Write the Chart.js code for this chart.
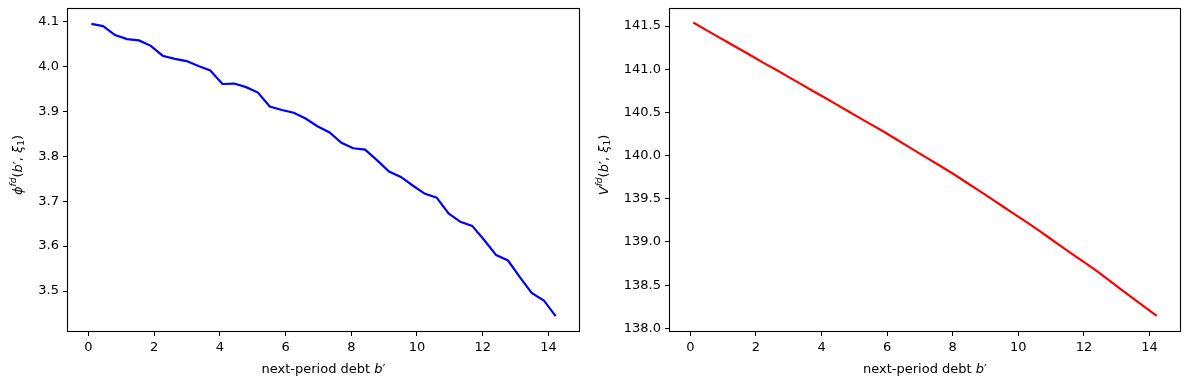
<!DOCTYPE html>
<html>
<head>
<meta charset="utf-8">
<script src="https://cdn.jsdelivr.net/npm/chart.js@4"></script>
<style>
  body { margin: 0; background: #fff; }
  #wrap { position: relative; width: 1189px; height: 389px; background: #fff; }
  canvas { position: absolute; top: 0; }
</style>
</head>
<body>
<div id="wrap">
  <canvas id="phiChart" width="595" height="389" style="left:0"></canvas>
  <canvas id="valChart" width="594" height="389" style="left:595px"></canvas>
</div>
<script>
// grid of next-period debt b'
const debtGrid = [0.09, 0.45, 0.81, 1.18, 1.54, 1.90, 2.26, 2.63, 2.99, 3.35,
  3.71, 4.08, 4.44, 4.80, 5.16, 5.52, 5.89, 6.25, 6.61, 6.97,
  7.34, 7.70, 8.06, 8.42, 8.79, 9.15, 9.51, 9.87, 10.23, 10.60,
  10.96, 11.32, 11.68, 12.05, 12.41, 12.77, 13.13, 13.49, 13.86, 14.22];

// left panel: phi^fd(b', xi_1)
const phiValues = [4.095, 4.090, 4.070, 4.061, 4.058, 4.046, 4.024, 4.017, 4.012, 4.001,
  3.991, 3.961, 3.962, 3.954, 3.942, 3.911, 3.903, 3.897, 3.884, 3.867,
  3.853, 3.830, 3.818, 3.815, 3.791, 3.766, 3.754, 3.735, 3.717, 3.708,
  3.673, 3.654, 3.645, 3.613, 3.580, 3.568, 3.531, 3.496, 3.479, 3.444];

// right panel: V^fd(b', xi_1)
const valueFnValues = [141.540, 141.461, 141.383, 141.304, 141.226, 141.147, 141.068, 140.990, 140.911, 140.833,
  140.754, 140.675, 140.596, 140.516, 140.437, 140.358, 140.278, 140.195, 140.112, 140.028,
  139.945, 139.862, 139.778, 139.688, 139.597, 139.507, 139.416, 139.325, 139.235, 139.139,
  139.043, 138.947, 138.851, 138.755, 138.659, 138.556, 138.452, 138.349, 138.246, 138.143];

const debtTicks = [0, 2, 4, 6, 8, 10, 12, 14];
const phiTicks = [3.5, 3.6, 3.7, 3.8, 3.9, 4.0, 4.1];
const valueTicks = [138.0, 138.5, 139.0, 139.5, 140.0, 140.5, 141.0, 141.5];

const FONT = 'DejaVu Sans';
const FS = 13;

// pieces of the mathtext labels
const xLabelSegs = [{ t: 'next-period debt ' }, { t: 'b', it: true }, { t: '\u2032' }];
const phiLabelSegs = [{ t: '\u03D5', it: true }, { t: 'fd', it: true, sup: true }, { t: '(' },
  { t: 'b', it: true }, { t: '\u2032' }, { t: ', ' }, { t: '\u03BE', it: true }, { t: '1', sub: true }, { t: ')' }];
const valLabelSegs = [{ t: 'V', it: true }, { t: 'fd', it: true, sup: true }, { t: '(' },
  { t: 'b', it: true }, { t: '\u2032' }, { t: ', ' }, { t: '\u03BE', it: true }, { t: '1', sub: true }, { t: ')' }];

function segFont(s) {
  const size = (s.sup || s.sub) ? FS * 0.7 : FS;
  return (s.it ? 'italic ' : '') + size + 'px "' + FONT + '"';
}

// draws a label made of segments, centred on (0,0) of the current transform
function drawSegs(ctx, segs) {
  let total = 0;
  segs.forEach(s => { ctx.font = segFont(s); total += ctx.measureText(s.t).width; });
  let x = -total / 2;
  segs.forEach(s => {
    ctx.font = segFont(s);
    let dy = 0;
    if (s.sup) dy = -FS * 0.38;
    if (s.sub) dy = FS * 0.22;
    ctx.fillText(s.t, x, dy);
    x += ctx.measureText(s.t).width;
  });
}

const axisTextPlugin = {
  id: 'axisText',
  afterDraw(chart, args, opts) {
    const ctx = chart.ctx;
    const a = chart.chartArea;
    ctx.save();
    ctx.fillStyle = '#000';
    ctx.textBaseline = 'middle';
    ctx.textAlign = 'left';
    ctx.save();
    ctx.translate((a.left + a.right) / 2, a.bottom + 39);
    drawSegs(ctx, opts.xSegs);
    ctx.restore();
    ctx.save();
    ctx.translate(a.left - opts.yOffset, (a.top + a.bottom) / 2 - 5);
    ctx.rotate(-Math.PI / 2);
    drawSegs(ctx, opts.ySegs);
    ctx.restore();
    ctx.restore();
  }
};

const framePlugin = {
  id: 'frame',
  afterDatasetsDraw(chart) {
    const ctx = chart.ctx;
    const a = chart.chartArea;
    ctx.save();
    ctx.strokeStyle = '#000';
    ctx.lineWidth = 1.1;
    ctx.strokeRect(a.left - 0.5, a.top - 0.5, a.right - a.left + 1, a.bottom - a.top + 1);
    ctx.restore();
  }
};

function makeChart(id, ys, color, yMin, yMax, yTicks, yAxisWidth, rightPad, ySegs, yOffset) {
  const points = debtGrid.map((x, i) => ({ x: x, y: ys[i] }));
  return new Chart(document.getElementById(id), {
    type: 'line',
    data: {
      datasets: [{
        data: points,
        borderColor: color,
        borderWidth: 2.2,
        pointRadius: 0,
        tension: 0,
        fill: false
      }]
    },
    options: {
      responsive: false,
      animation: false,
      devicePixelRatio: 1,
      layout: { padding: { top: 9, right: rightPad, left: 0, bottom: 0 } },
      plugins: {
        legend: { display: false },
        tooltip: { enabled: false },
        axisText: { xSegs: xLabelSegs, ySegs: ySegs, yOffset: yOffset }
      },
      scales: {
        x: {
          type: 'linear',
          min: -0.62,
          max: 14.93,
          afterBuildTicks: s => { s.ticks = debtTicks.map(v => ({ value: v })); },
          afterFit: s => { s.height = 58; s.paddingLeft = 0; s.paddingRight = 0; },
          grid: { drawOnChartArea: false, drawTicks: true, tickLength: 5, tickColor: '#000' },
          border: { display: false },
          ticks: {
            color: '#000', padding: 4, maxRotation: 0,
            font: { family: FONT, size: FS },
            callback: v => String(v)
          }
        },
        y: {
          type: 'linear',
          min: yMin,
          max: yMax,
          afterBuildTicks: s => { s.ticks = yTicks.map(v => ({ value: v })); },
          afterFit: s => { s.width = yAxisWidth; s.paddingTop = 0; s.paddingBottom = 0; },
          grid: { drawOnChartArea: false, drawTicks: true, tickLength: 5, tickColor: '#000' },
          border: { display: false },
          ticks: {
            color: '#000', padding: 4,
            font: { family: FONT, size: FS },
            callback: v => v.toFixed(1)
          }
        }
      }
    },
    plugins: [framePlugin, axisTextPlugin]
  });
}

makeChart('phiChart', phiValues, '#0000ff', 3.411, 4.128, phiTicks, 68, 16, phiLabelSegs, 49);
makeChart('valChart', valueFnValues, '#ff0000', 137.969, 141.697, valueTicks, 75, 9, valLabelSegs, 65);
</script>
</body>
</html>
